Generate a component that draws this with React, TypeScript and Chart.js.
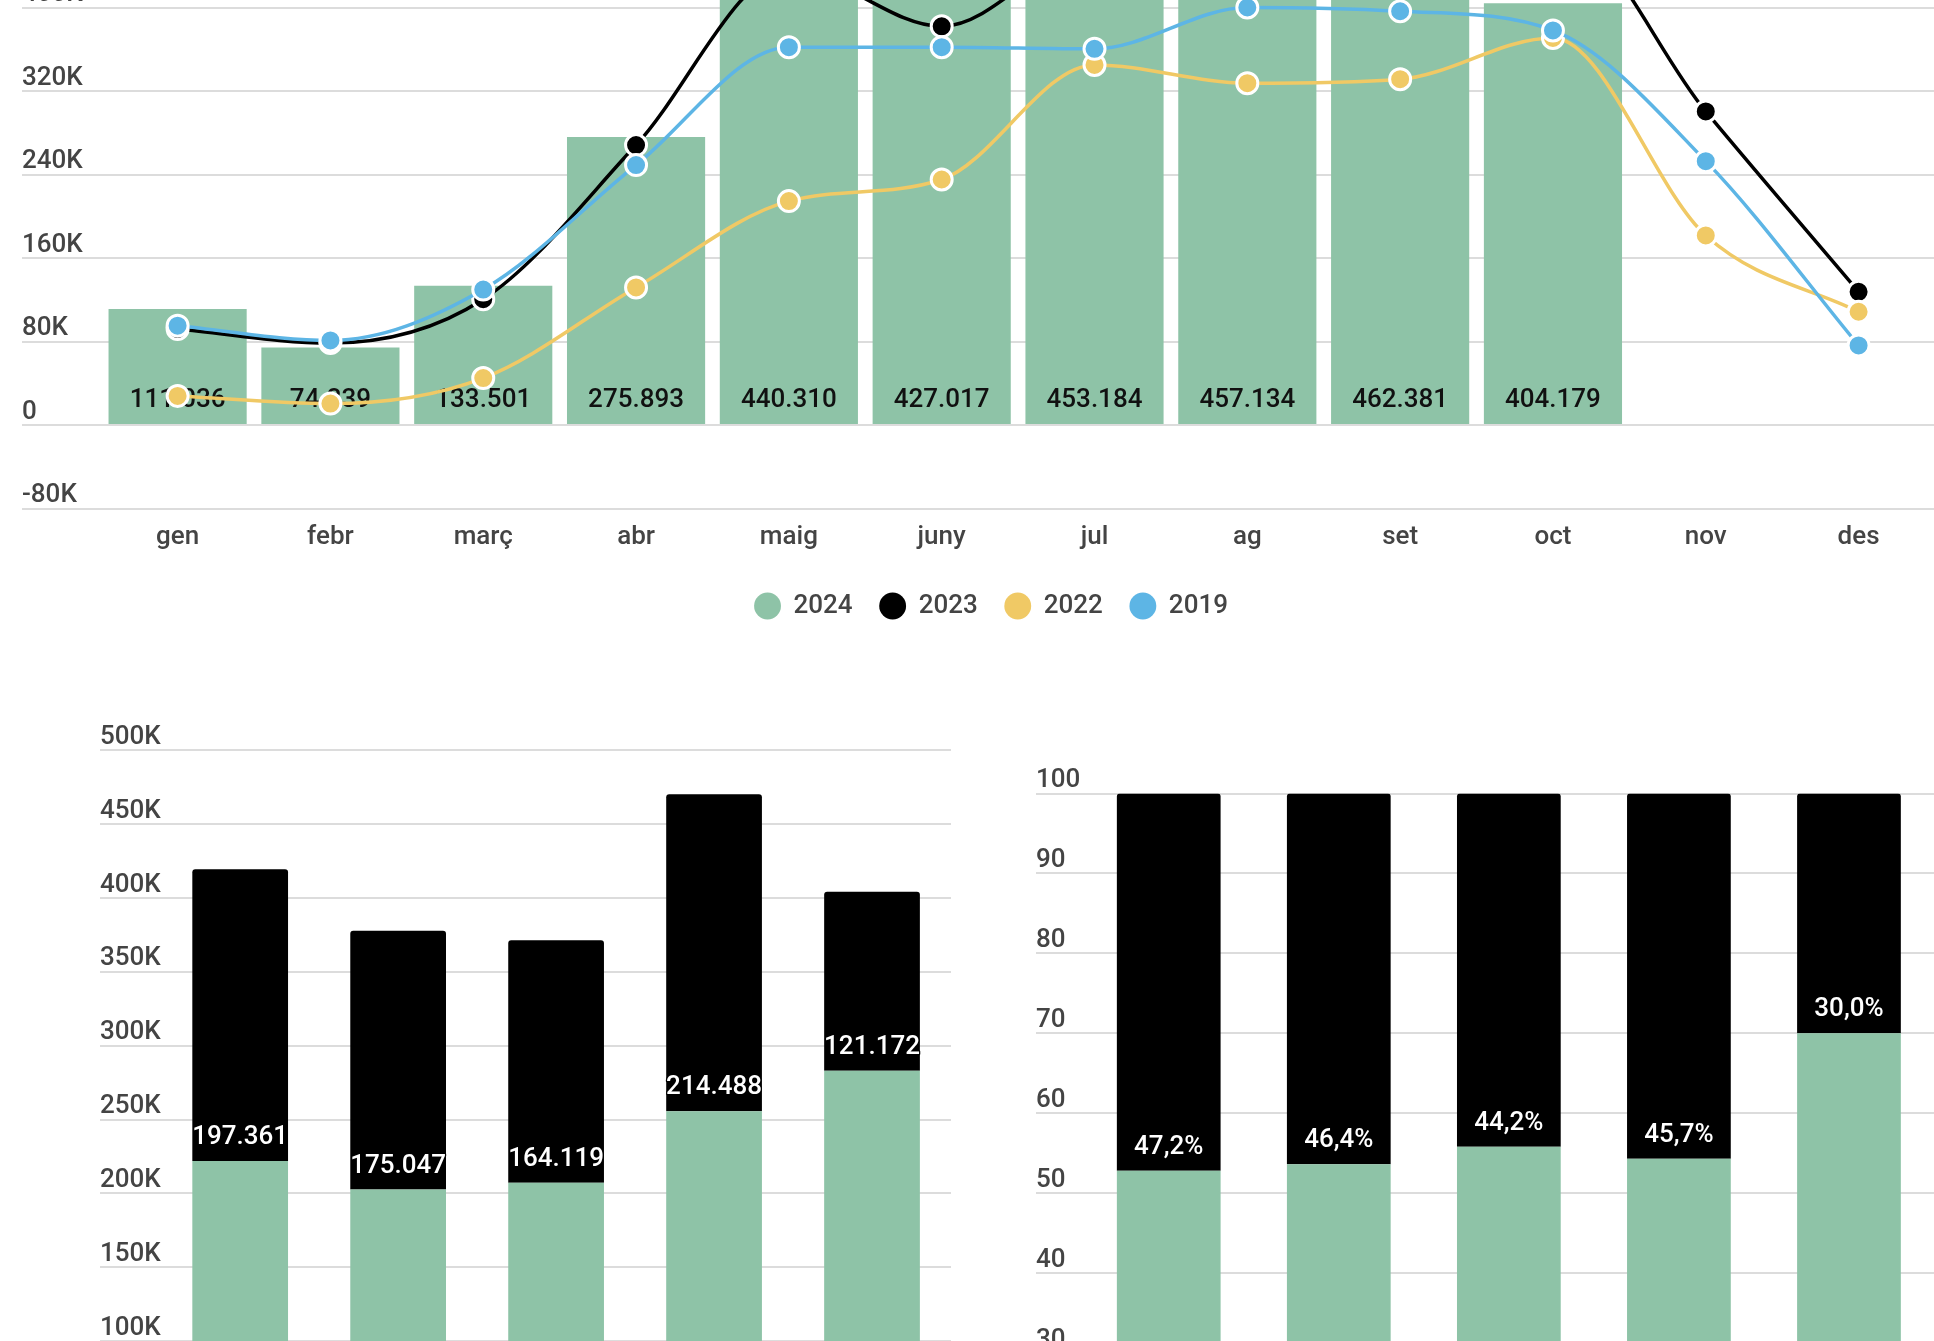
import React, { useEffect, useRef } from 'react';
import { Chart, registerables } from 'chart.js';

Chart.register(...registerables);
Chart.defaults.font.family = 'Roboto';

// ---------- data ----------
const MONTHS = ['gen', 'febr', 'març', 'abr', 'maig', 'juny', 'jul', 'ag', 'set', 'oct', 'nov', 'des'];
const SALES_2024 = [111036, 74239, 133501, 275893, 440310, 427017, 453184, 457134, 462381, 404179, null, null];
const SALES_2023 = [92000, 78500, 120500, 268200, 435000, 382000, 460000, 468000, 472000, 480000, 300400, 127600];
const SALES_2022 = [27900, 20500, 45000, 131800, 214500, 235200, 345000, 327500, 331300, 370800, 181600, 108500];
const SALES_2019 = [95200, 81000, 129800, 249000, 362000, 362000, 360400, 400000, 396400, 378000, 252800, 76200];
const TOP_Y_TICKS = [-80000, 480000, 80000]; // min, max, step

const GROUPS = ['1', '2', '3', '4', '5'];
const GROUP_BASE = [222000, 202600, 207200, 255500, 283000];
const GROUP_TOP = [197361, 175047, 164119, 214488, 121172];
const GROUP_Y_TICKS = [0, 500000, 50000];

const SHARE_BASE = [52.8, 53.6, 55.8, 54.3, 70.0];
const SHARE_TOP = [47.2, 46.4, 44.2, 45.7, 30.0];
const SHARE_Y_TICKS = [0, 100, 10];

// ---------- styles ----------
const GREEN = '#8ec3a7';
const BLACK = '#000000';
const YELLOW = '#f0c965';
const BLUE = '#5db5e5';
const GRID = '#dcdcdc';
const TEXT = '#444444';
const FONT = { size: 26, weight: 500 as any, family: 'Roboto' };

const thousands = (v: number) =>
  Math.round(v).toString().replace(/\B(?=(\d{3})+(?!\d))/g, '.');
const kLabel = (v: any) => (Number(v) === 0 ? '0' : Number(v) / 1000 + 'K');

function labelPlugin(id: string, datasetIndex: number, color: string, fmt: (v: number) => string, stroke: string | null, hook: 'afterDatasetDraw' | 'afterDatasetsDraw') {
  const draw = (chart: any) => {
    const meta = chart.getDatasetMeta(datasetIndex);
    const data = chart.data.datasets[datasetIndex].data;
    const ctx = chart.ctx;
    ctx.save();
    ctx.font = '500 26px Roboto';
    ctx.textAlign = 'center';
    ctx.textBaseline = 'alphabetic';
    meta.data.forEach((el: any, i: number) => {
      const v = data[i];
      if (v == null) return;
      const p = el.getProps(['x', 'base'], true);
      const t = fmt(v);
      const y = p.base - 17;
      if (stroke) {
        ctx.lineWidth = 2.5;
        ctx.lineJoin = 'round';
        ctx.strokeStyle = stroke;
        ctx.strokeText(t, p.x, y);
      }
      ctx.fillStyle = color;
      ctx.fillText(t, p.x, y);
    });
    ctx.restore();
  };
  const plugin: any = { id };
  if (hook === 'afterDatasetDraw') {
    plugin.afterDatasetDraw = (chart: any, args: any) => {
      if (args.index === datasetIndex) draw(chart);
    };
  } else {
    plugin.afterDatasetsDraw = (chart: any) => draw(chart);
  }
  return plugin;
}

function yAxis(ticks: number[], tickLen: number, width: number, cb: (v: any) => string) {
  return {
    min: ticks[0],
    max: ticks[1],
    border: { display: false },
    grid: { color: GRID, lineWidth: 2, tickLength: tickLen, drawTicks: true },
    ticks: {
      stepSize: ticks[2],
      mirror: true,
      padding: -tickLen,
      labelOffset: -12.8,
      color: TEXT,
      font: FONT,
      callback: cb,
    },
    afterFit: (s: any) => {
      s.width = width;
    },
  };
}

const hiddenX = {
  grid: { display: false, drawTicks: false },
  border: { display: false },
  ticks: { display: false },
};

function lineDs(label: string, data: number[], color: string, order: number) {
  return {
    type: 'line' as const,
    label,
    data,
    order,
    borderColor: color,
    backgroundColor: color,
    borderWidth: 3.5,
    pointBackgroundColor: color,
    pointBorderColor: '#ffffff',
    pointBorderWidth: 3,
    pointRadius: 10.5,
    pointHoverRadius: 10.5,
    cubicInterpolationMode: 'monotone' as const,
  };
}

function useChart(ref: React.RefObject<HTMLCanvasElement>, make: () => any) {
  useEffect(() => {
    if (!ref.current) return;
    const chart = new Chart(ref.current, make());
    return () => chart.destroy();
  }, []);
}

export default function App() {
  const topRef = useRef<HTMLCanvasElement>(null);
  const leftRef = useRef<HTMLCanvasElement>(null);
  const rightRef = useRef<HTMLCanvasElement>(null);

  useChart(topRef, () => ({
    type: 'bar',
    data: {
      labels: MONTHS,
      datasets: [
        {
          type: 'bar',
          label: '2024',
          data: SALES_2024,
          backgroundColor: GREEN,
          borderWidth: 0,
          barPercentage: 0.904,
          categoryPercentage: 1,
          order: 4,
        },
        lineDs('2023', SALES_2023, BLACK, 3),
        lineDs('2022', SALES_2022, YELLOW, 2),
        lineDs('2019', SALES_2019, BLUE, 1),
      ],
    },
    options: {
      responsive: false,
      animation: false,
      devicePixelRatio: 1,
      layout: { autoPadding: false, padding: { left: 47.5, right: 0, top: 74, bottom: 0 } },
      plugins: {
        tooltip: { enabled: false },
        legend: {
          position: 'bottom',
          labels: {
            usePointStyle: true,
            boxWidth: 26,
            boxHeight: 19,
            padding: 27,
            color: TEXT,
            font: FONT,
            generateLabels: (chart: any) => {
              const items = (Chart.defaults.plugins.legend.labels as any).generateLabels(chart);
              return items
                .map((it: any) => ({ ...it, strokeStyle: it.fillStyle, lineWidth: 0, pointStyle: 'circle' }))
                .sort((a: any, b: any) => a.datasetIndex - b.datasetIndex);
            },
          },
        },
      },
      scales: {
        x: {
          grid: { display: false, drawTicks: false },
          border: { display: false },
          ticks: { color: TEXT, font: FONT, padding: 13, maxRotation: 0 },
          afterFit: (s: any) => {
            s.height = 57.5;
            s.paddingLeft = 0;
            s.paddingRight = 0;
          },
        },
        y: yAxis(TOP_Y_TICKS, 79.2, 53.7, kLabel),
      },
    },
    plugins: [labelPlugin('topLabels', 0, '#111111', thousands, null, 'afterDatasetDraw')],
  }));

  useChart(leftRef, () => ({
    type: 'bar',
    data: {
      labels: GROUPS,
      datasets: [
        { label: '2024', data: GROUP_BASE, backgroundColor: GREEN, borderWidth: 0, barPercentage: 0.606, categoryPercentage: 1 },
        {
          label: '2023',
          data: GROUP_TOP,
          backgroundColor: BLACK,
          borderWidth: 0,
          borderRadius: { topLeft: 3, topRight: 3, bottomLeft: 0, bottomRight: 0 },
          borderSkipped: false,
          barPercentage: 0.606,
          categoryPercentage: 1,
        },
      ],
    },
    options: {
      responsive: false,
      animation: false,
      devicePixelRatio: 1,
      layout: { autoPadding: false, padding: { left: 10, right: 0, top: 60, bottom: 10 } },
      plugins: { tooltip: { enabled: false }, legend: { display: false } },
      scales: {
        x: { ...hiddenX, stacked: true },
        y: { ...yAxis(GROUP_Y_TICKS, 61.2, 61.2, kLabel), stacked: true },
      },
    },
    plugins: [labelPlugin('leftLabels', 1, '#ffffff', thousands, '#000000', 'afterDatasetsDraw')],
  }));

  useChart(rightRef, () => ({
    type: 'bar',
    data: {
      labels: GROUPS,
      datasets: [
        { label: '2024', data: SHARE_BASE, backgroundColor: GREEN, borderWidth: 0, barPercentage: 0.61, categoryPercentage: 1 },
        {
          label: '2023',
          data: SHARE_TOP,
          backgroundColor: BLACK,
          borderWidth: 0,
          borderRadius: { topLeft: 3, topRight: 3, bottomLeft: 0, bottomRight: 0 },
          borderSkipped: false,
          barPercentage: 0.61,
          categoryPercentage: 1,
        },
      ],
    },
    options: {
      responsive: false,
      animation: false,
      devicePixelRatio: 1,
      layout: { autoPadding: false, padding: { left: 36, right: 0, top: 63.6, bottom: 10.4 } },
      plugins: { tooltip: { enabled: false }, legend: { display: false } },
      scales: {
        x: { ...hiddenX, stacked: true },
        y: { ...yAxis(SHARE_Y_TICKS, 47.7, 47.7, (v: any) => String(v)), stacked: true },
      },
    },
    plugins: [
      labelPlugin('rightLabels', 1, '#ffffff', (v) => v.toFixed(1).replace('.', ',') + '%', '#000000', 'afterDatasetsDraw'),
    ],
  }));

  return (
    <div style={{ position: 'fixed', left: 0, top: 0, width: 1934, height: 1341, overflow: 'hidden', background: '#ffffff' }}>
      <canvas ref={topRef} width={1935} height={779} style={{ position: 'absolute', left: 0, top: -150, width: 1935, height: 779 }} />
      <canvas ref={leftRef} width={861} height={809} style={{ position: 'absolute', left: 90, top: 690, width: 861, height: 809 }} />
      <canvas ref={rightRef} width={934} height={873} style={{ position: 'absolute', left: 1000, top: 730, width: 934, height: 873 }} />
    </div>
  );
}
